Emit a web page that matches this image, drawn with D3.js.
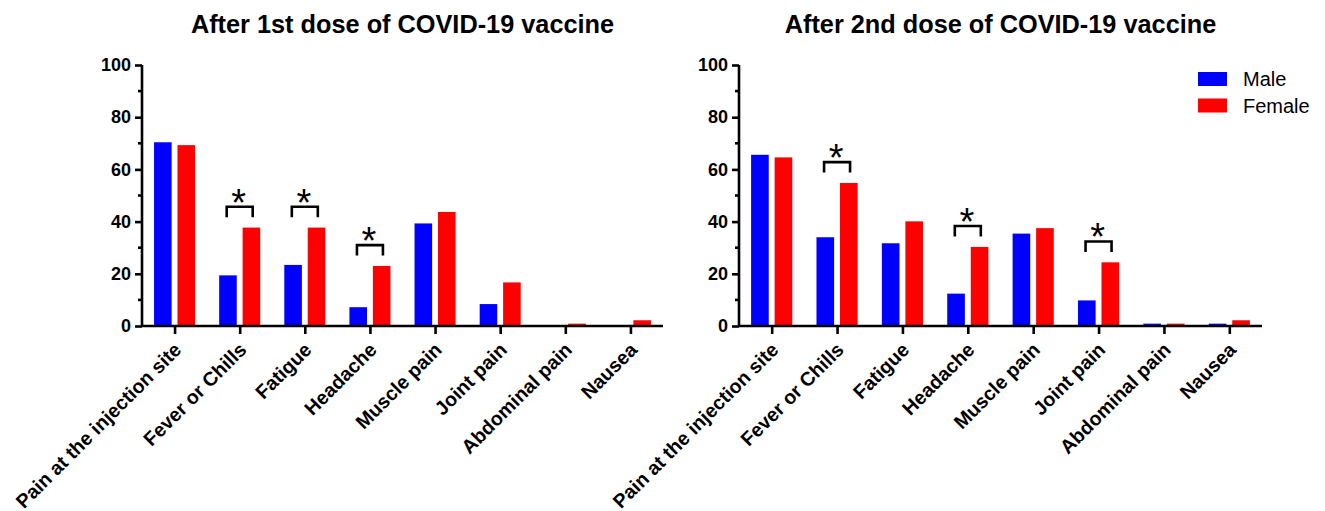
<!DOCTYPE html>
<html>
<head>
<meta charset="utf-8">
<script src="https://cdn.jsdelivr.net/npm/d3@7"></script>
<style>
  body { margin: 0; background: #fff; }
  svg { display: block; font-family: "Liberation Sans", Arial, sans-serif; }
</style>
</head>
<body>
<svg id="chart" width="1325" height="511"></svg>
<script>
var categories = ["Pain at the injection site", "Fever or Chills", "Fatigue", "Headache",
  "Muscle pain", "Joint pain", "Abdominal pain", "Nausea"];
var groups = ["Male", "Female"];
var maleDose1 = [70.4, 19.4, 23.4, 7.2, 39.3, 8.4, 0, 0];
var femaleDose1 = [69.3, 37.7, 37.7, 23.0, 43.7, 16.7, 0.9, 2.2];
var maleDose2 = [65.6, 34.0, 31.7, 12.4, 35.4, 9.8, 0.9, 0.9];
var femaleDose2 = [64.6, 54.8, 40.1, 30.3, 37.5, 24.4, 0.9, 2.2];
var sigDose1 = ["Fever or Chills", "Fatigue", "Headache"];
var sigDose2 = ["Fever or Chills", "Headache", "Joint pain"];
var yTicks = [0, 20, 40, 60, 80, 100];
var yMinorTicks = [10, 30, 50, 70, 90];
var titles = ["After 1st dose of COVID-19 vaccine", "After 2nd dose of COVID-19 vaccine"];

var colors = { Male: "#0000ff", Female: "#ff0000" };
var svg = d3.select("#chart");

var panels = [
  { title: titles[0], male: maleDose1, female: femaleDose1, sig: sigDose1, x0: 142, x1: 663, legend: false },
  { title: titles[1], male: maleDose2, female: femaleDose2, sig: sigDose2, x0: 739, x1: 1262, legend: true }
];

var yTop = 65, yBottom = 326;

panels.forEach(function (p) {
  var g = svg.append("g");
  var rows = categories.map(function (c, i) { return { cat: c, Male: p.male[i], Female: p.female[i] }; });

  var x0 = d3.scaleBand().domain(categories).range([p.x0, p.x1]).paddingInner(0.37).paddingOuter(0.185);
  var x1 = d3.scaleBand().domain(groups).range([0, x0.bandwidth()]).paddingInner(0.25);
  var xTick = d3.scalePoint().domain(categories).range([p.x0, p.x1]).padding(0.5);
  var y = d3.scaleLinear().domain([0, 100]).range([yBottom, yTop]);

  // bars
  g.selectAll("g.grp").data(rows).enter().append("g")
    .attr("class", "grp")
    .attr("transform", function (d) { return "translate(" + x0(d.cat) + ",0)"; })
    .selectAll("rect").data(function (d) { return groups.map(function (k) { return { key: k, value: d[k] }; }); })
    .enter().append("rect")
    .attr("x", function (d) { return x1(d.key); })
    .attr("width", x1.bandwidth())
    .attr("y", function (d) { return y(d.value); })
    .attr("height", function (d) { return y(0) - y(d.value); })
    .attr("fill", function (d) { return colors[d.key]; });

  // y axis
  var yAxis = g.append("g")
    .attr("transform", "translate(" + p.x0 + ",0)")
    .call(d3.axisLeft(y).tickValues(yTicks).tickSize(7).tickPadding(4));
  yAxis.selectAll("text").attr("font-size", 18).attr("font-weight", "bold").attr("fill", "#000")
    .attr("font-family", "Liberation Sans, Arial, sans-serif");
  yAxis.selectAll(".minor").data(yMinorTicks).enter().append("line")
    .attr("class", "minor")
    .attr("x1", -4).attr("x2", 0)
    .attr("y1", function (d) { return y(d); }).attr("y2", function (d) { return y(d); });
  yAxis.selectAll("line, path").attr("stroke", "#000").attr("stroke-width", 2.6);
  yAxis.select(".domain").attr("d", "M0," + yTop + "V" + yBottom);

  // x axis
  var xAxis = g.append("g")
    .attr("transform", "translate(0," + yBottom + ")")
    .call(d3.axisBottom(xTick).tickSize(8).tickFormat(""));
  xAxis.selectAll("line, path").attr("stroke", "#000").attr("stroke-width", 2.6);
  xAxis.select(".domain").attr("d", "M" + p.x0 + ",0H" + p.x1);

  g.selectAll("text.xlab").data(categories).enter().append("text")
    .attr("class", "xlab")
    .attr("transform", function (d) { return "translate(" + (xTick(d) + 8) + "," + (yBottom + 25) + ") rotate(-45)"; })
    .attr("text-anchor", "end")
    .attr("font-size", 19.6)
    .attr("font-weight", "bold")
    .text(function (d) { return d; });

  // significance brackets
  var sigRows = rows.filter(function (d) { return p.sig.indexOf(d.cat) >= 0; });
  sigRows.forEach(function (d) {
    var cx = xTick(d.cat);
    var level = Math.max(d.Male, d.Female) + 8;
    var yb = y(level), yl = y(level - 4);
    g.append("path")
      .attr("d", "M" + (cx - 13) + "," + yl + "V" + yb + "H" + (cx + 13) + "V" + yl)
      .attr("fill", "none").attr("stroke", "#000").attr("stroke-width", 2.6);
    g.append("text")
      .attr("x", cx - 1).attr("y", yb + 9)
      .attr("text-anchor", "middle")
      .attr("font-size", 38)
      .text("*");
  });

  // title
  g.append("text")
    .attr("x", (p.x0 + p.x1) / 2).attr("y", 33)
    .attr("text-anchor", "middle")
    .attr("font-size", 25.3)
    .attr("font-weight", "bold")
    .text(p.title);

  if (p.legend) {
    var lg = g.append("g").attr("transform", "translate(1198,72)");
    var item = lg.selectAll("g").data(groups).enter().append("g")
      .attr("transform", function (d, i) { return "translate(0," + (i * 26.5) + ")"; });
    item.append("rect").attr("width", 29).attr("height", 14).attr("fill", function (d) { return colors[d]; });
    item.append("text").attr("x", 45).attr("y", 14).attr("font-size", 20).text(function (d) { return d; });
  }
});
</script>
</body>
</html>
